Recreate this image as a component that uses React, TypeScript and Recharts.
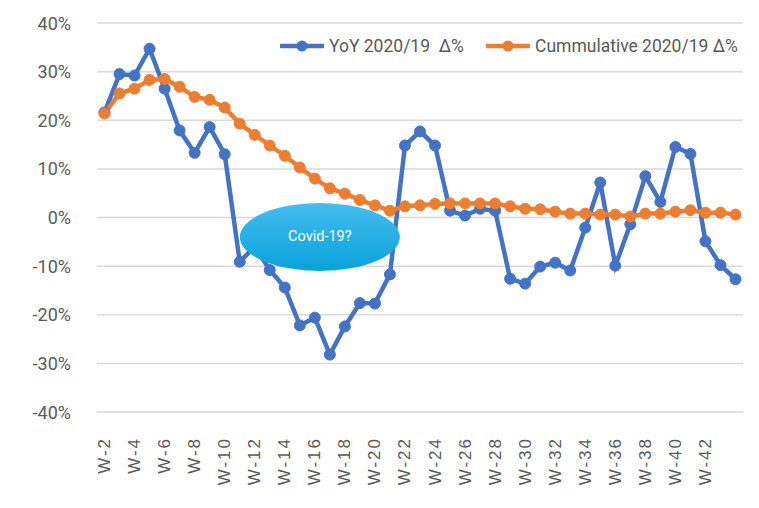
import { LineChart, Line, XAxis, YAxis, CartesianGrid, ReferenceDot } from 'recharts';

const weeks = [
  'W-2', 'W-3', 'W-4', 'W-5', 'W-6', 'W-7', 'W-8', 'W-9', 'W-10', 'W-11',
  'W-12', 'W-13', 'W-14', 'W-15', 'W-16', 'W-17', 'W-18', 'W-19', 'W-20', 'W-21',
  'W-22', 'W-23', 'W-24', 'W-25', 'W-26', 'W-27', 'W-28', 'W-29', 'W-30', 'W-31',
  'W-32', 'W-33', 'W-34', 'W-35', 'W-36', 'W-37', 'W-38', 'W-39', 'W-40', 'W-41',
  'W-42', 'W-43', 'W-44',
];

const yoy = [
  21.6, 29.5, 29.2, 34.7, 26.5, 17.9, 13.3, 18.6, 13.0, -9.1,
  -6.0, -10.8, -14.4, -22.2, -20.6, -28.2, -22.4, -17.6, -17.7, -11.7,
  14.8, 17.7, 14.8, 1.4, 0.4, 1.8, 1.4, -12.6, -13.6, -10.1,
  -9.3, -10.9, -2.1, 7.2, -9.9, -1.4, 8.5, 3.2, 14.5, 13.1,
  -4.9, -9.8, -12.7,
];

const cumulative = [
  21.4, 25.5, 26.5, 28.3, 28.5, 26.9, 24.8, 24.2, 22.6, 19.3,
  17.0, 14.8, 12.7, 10.3, 8.0, 6.0, 4.9, 3.6, 2.5, 1.4,
  2.3, 2.5, 2.8, 2.9, 2.9, 2.9, 2.9, 2.3, 1.8, 1.7,
  1.2, 0.8, 0.8, 0.6, 0.6, 0.2, 0.8, 0.8, 1.2, 1.5,
  1.0, 1.0, 0.6,
];

const xTickLabels = [
  'W-2', 'W-4', 'W-6', 'W-8', 'W-10', 'W-12', 'W-14', 'W-16', 'W-18', 'W-20', 'W-22',
  'W-24', 'W-26', 'W-28', 'W-30', 'W-32', 'W-34', 'W-36', 'W-38', 'W-40', 'W-42',
];

const yTicks = [-40, -30, -20, -10, 0, 10, 20, 30, 40];

const series = [
  { key: 'yoy', name: 'YoY 2020/19  Δ%', color: '#4472C4', legendLeft: 280 },
  { key: 'cumulative', name: 'Cummulative 2020/19 Δ%', color: '#ED7D31', legendLeft: 486 },
];

const chartData = weeks.map((week, i) => ({
  week,
  yoy: yoy[i],
  cumulative: cumulative[i],
}));

const labelFont = 'Roboto, "Noto Sans", sans-serif';
const textColor = '#595959';

function YTick({ x, y, payload }: any) {
  return (
    <text x={x - 18} y={y} textAnchor="end" dominantBaseline="central" fontSize={18} fontFamily={labelFont} fill={textColor}>
      {payload.value}%
    </text>
  );
}

function XTick({ x, y, payload }: any) {
  return (
    <text
      transform={`translate(${x}, ${y + 17}) rotate(-90)`}
      textAnchor="end"
      dominantBaseline="central"
      fontSize={17}
      letterSpacing={2}
      fontFamily='"Liberation Sans", Arial, sans-serif'
      fill={textColor}
    >
      {payload.value}
    </text>
  );
}

function CovidBubble({ cx, cy }: any) {
  return (
    <g>
      <ellipse cx={cx + 5} cy={cy} rx={80} ry={34} fill="url(#covidFill)" />
      <text x={cx + 5} y={cy} textAnchor="middle" dominantBaseline="central" fontSize={14.5} fontFamily={labelFont} fill="#ffffff">
        Covid-19?
      </text>
    </g>
  );
}

function LegendItem({ name, color, left }: { name: string; color: string; left: number }) {
  return (
    <div style={{ position: 'absolute', left, top: 36, display: 'flex', alignItems: 'center' }}>
      <svg width={44} height={12} style={{ marginRight: 5 }}>
        <line x1={1} y1={6} x2={43} y2={6} stroke={color} strokeWidth={4.5} strokeLinecap="round" />
        <circle cx={22} cy={6} r={5.5} fill={color} />
      </svg>
      <span style={{ fontFamily: labelFont, fontSize: 17.5, color: textColor, whiteSpace: 'pre' }}>{name}</span>
    </div>
  );
}

export default function App() {
  return (
    <div style={{ position: 'absolute', left: 0, top: 0, width: 759, height: 508, background: '#fff' }}>
      <LineChart width={759} height={508} data={chartData} margin={{ top: 23, right: 16, left: 0, bottom: 0 }}>
        <defs>
          <linearGradient id="covidFill" x1="0" y1="0" x2="0" y2="1">
            <stop offset="0%" stopColor="#45BDEE" />
            <stop offset="100%" stopColor="#08A2DC" />
          </linearGradient>
        </defs>
        <CartesianGrid vertical={false} stroke="#d9d9d9" strokeWidth={1.5} />
        <XAxis
          dataKey="week"
          ticks={xTickLabels}
          interval={0}
          height={96}
          padding={{ left: 7.5, right: 7.5 }}
          axisLine={false}
          tickLine={false}
          tick={<XTick />}
        />
        <YAxis
          width={97}
          domain={[-40, 40]}
          ticks={yTicks}
          axisLine={false}
          tickLine={false}
          tick={<YTick />}
        />
        {series.map((s) => (
          <Line
            key={s.key}
            dataKey={s.key}
            name={s.name}
            type="linear"
            stroke={s.color}
            strokeWidth={4.5}
            dot={{ r: 5.5, fill: s.color, stroke: s.color, strokeWidth: 1 }}
            isAnimationActive={false}
          />
        ))}
        <ReferenceDot x="W-16" y={-4} r={0} zIndex={1000} shape={<CovidBubble />} />
      </LineChart>
      {series.map((s) => (
        <LegendItem key={s.key} name={s.name} color={s.color} left={s.legendLeft} />
      ))}
    </div>
  );
}
